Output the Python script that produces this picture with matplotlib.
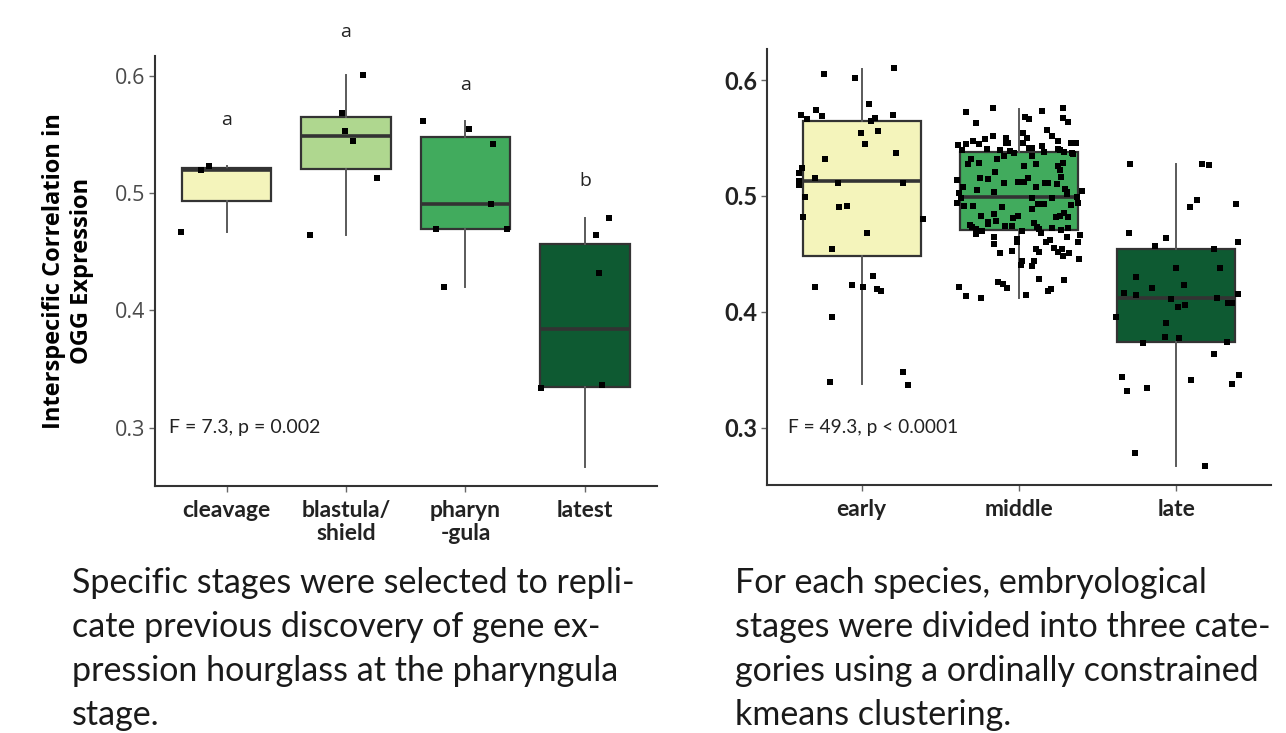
import numpy as np
import matplotlib.pyplot as plt

# per-stage correlation values (selected stages) and horizontal jitter of each point
stages = ['cleavage', 'blastula/\nshield', 'pharyn\n-gula', 'latest']
cleavage = [0.467, 0.5197, 0.5231]
cleavage_jit = [-0.383, -0.218, -0.148]
blastula = [0.6003, 0.5685, 0.5532, 0.5441, 0.5126, 0.4646]
blastula_jit = [0.14, -0.034, -0.006, 0.061, 0.262, -0.302]
pharyngula = [0.5617, 0.5543, 0.5416, 0.4907, 0.4692, 0.4692, 0.4203]
pharyngula_jit = [-0.359, 0.032, 0.228, 0.216, -0.247, 0.348, -0.178]
latest = [0.4785, 0.4646, 0.4322, 0.3342, 0.3368, 0.267]
latest_jit = [0.199, 0.09, 0.12, -0.369, 0.142, np.nan]
letters = ['a', 'a', 'a', 'b']
letter_y = [0.562, 0.637, 0.592, 0.51]

# clustered stages: early / middle / late
groups = ['early', 'middle', 'late']
early = [0.6054, 0.6015, 0.6101, 0.5796, 0.5744, 0.5695, 0.5663, 0.5687, 0.5695, 0.5644,
         0.5670, 0.5540, 0.5563, 0.5450, 0.5368, 0.5321, 0.5238, 0.5200, 0.5157, 0.5131,
         0.5091, 0.5114, 0.5114, 0.4991, 0.4902, 0.4910, 0.4815, 0.4803, 0.4677, 0.4539,
         0.4306, 0.4217, 0.4234, 0.4217, 0.4194, 0.4180, 0.3958, 0.3483, 0.3392, 0.3371]
early_jit = [-0.242, -0.045, 0.204, 0.046, -0.293, -0.386, -0.346, -0.253, 0.200, 0.060,
             0.086, -0.007, 0.101, 0.020, 0.215, -0.236, -0.380, -0.399, -0.297, -0.399,
             -0.399, -0.149, 0.262, -0.363, -0.145, -0.092, -0.371, 0.389, 0.033, -0.191,
             0.073, -0.297, -0.064, 0.006, 0.098, 0.122, -0.191, 0.262, -0.202, 0.293]
middle = [0.5758, 0.5721, 0.5683, 0.5666, 0.5730, 0.5758, 0.5669, 0.5638, 0.5629, 0.5568,
          0.5545, 0.5517, 0.5517, 0.5493, 0.5497, 0.5476, 0.5450, 0.5450, 0.5439, 0.5454,
          0.5454, 0.5497, 0.5454, 0.5474, 0.5454, 0.5459, 0.5431, 0.5396, 0.5402, 0.5396,
          0.5390, 0.5373, 0.5411, 0.5411, 0.5381, 0.5402, 0.5396, 0.5376, 0.5373, 0.5359,
          0.5316, 0.5275, 0.5281, 0.5321, 0.5344, 0.5344, 0.5286, 0.5258, 0.5223, 0.5258,
          0.5273, 0.5209, 0.5157, 0.5146, 0.5135, 0.5160, 0.5111, 0.5123, 0.5117, 0.5157,
          0.5114, 0.5109, 0.5105, 0.5074, 0.5079, 0.5048, 0.5028, 0.5036, 0.5057, 0.5036,
          0.5045, 0.5014, 0.4984, 0.4982, 0.4982, 0.4993, 0.4936, 0.4915, 0.4915, 0.4902,
          0.4887, 0.4930, 0.4930, 0.4924, 0.4941, 0.4844, 0.4827, 0.4807, 0.4824, 0.4821,
          0.4827, 0.4850, 0.4821, 0.4775, 0.4758, 0.4781, 0.4752, 0.4734, 0.4717, 0.4697,
          0.4669, 0.4738, 0.4738, 0.4764, 0.4734, 0.4714, 0.4677, 0.4726, 0.4703, 0.4723,
          0.4700, 0.4643, 0.4585, 0.4631, 0.4602, 0.4605, 0.4622, 0.4648, 0.4663, 0.4605,
          0.4553, 0.4519, 0.4539, 0.4510, 0.4481, 0.4539, 0.4513, 0.4527, 0.4510, 0.4458,
          0.4441, 0.4401, 0.4438, 0.4395, 0.4286, 0.4274, 0.4255, 0.4242, 0.4208, 0.4214,
          0.4177, 0.4194, 0.4134, 0.4122, 0.4142]
middle_jit = [-0.163, -0.338, 0.038, 0.065, 0.148, 0.277, 0.281, 0.313, -0.273, 0.176,
              0.027, 0.211, -0.167, -0.216, -0.083, -0.290, -0.256, -0.335, -0.389, -0.081,
              -0.068, 0.049, 0.023, 0.246, 0.328, 0.362, 0.148, -0.364, -0.201, -0.119,
              -0.055, -0.032, 0.063, 0.084, 0.159, 0.246, 0.260, 0.288, 0.338, 0.345,
              -0.307, -0.326, -0.252, -0.142, -0.095, 0.084, 0.281, 0.250, 0.258, 0.032,
              0.110, -0.154, -0.250, -0.197, -0.394, 0.269, -0.097, -0.004, 0.030, 0.055,
              0.165, 0.186, 0.239, 0.108, -0.354, -0.269, -0.379, -0.159, 0.292, 0.307,
              0.398, 0.303, -0.368, 0.081, 0.208, 0.366, -0.396, -0.347, -0.290, -0.110,
              0.084, 0.121, 0.157, 0.328, 0.377, -0.157, -0.243, -0.036, -0.004, 0.235,
              0.260, 0.286, 0.309, -0.195, -0.195, -0.148, -0.311, -0.297, -0.275, -0.235,
              -0.275, -0.087, -0.043, 0.095, 0.116, 0.129, 0.138, 0.211, 0.269, 0.313,
              0.021, -0.161, -0.161, -0.013, -0.015, 0.171, 0.199, 0.303, 0.385, 0.373,
              0.220, 0.250, 0.271, 0.316, 0.281, 0.108, 0.129, -0.046, -0.119, 0.383,
              0.017, 0.015, 0.093, 0.084, 0.127, 0.288, -0.131, -0.100, -0.076, -0.383,
              0.184, 0.203, -0.335, -0.243, 0.044]
late = [0.5278, 0.5275, 0.5264, 0.4965, 0.4907, 0.4928, 0.4677, 0.4639, 0.4570, 0.4600,
        0.4539, 0.4380, 0.4378, 0.4303, 0.4234, 0.4203, 0.4160, 0.4145, 0.4108, 0.4122,
        0.4151, 0.4079, 0.4079, 0.4044, 0.4056, 0.3958, 0.3903, 0.3785, 0.3771, 0.3733,
        0.3742, 0.3638, 0.3440, 0.3452, 0.3414, 0.3374, 0.3319, 0.3345, 0.2784, 0.2672]
late_jit = [-0.292, 0.163, 0.208, 0.129, 0.089, 0.383, -0.300, -0.065, -0.138, 0.392,
            0.239, -0.002, 0.279, -0.254, 0.049, -0.152, -0.335, -0.258, -0.032, 0.260,
            0.394, 0.332, 0.354, 0.013, 0.057, -0.381, -0.063, -0.070, 0.019, -0.210,
            0.326, 0.241, -0.345, 0.398, 0.093, 0.356, -0.316, -0.186, -0.265, 0.182]

# box summaries for the clustered groups: whisker low, q1, median, q3, whisker high
early_box = [0.3374, 0.4481, 0.5126, 0.5649, 0.6095]
middle_box = [0.4122, 0.4703, 0.4993, 0.5376, 0.5753]
late_box = [0.2670, 0.3739, 0.4116, 0.4545, 0.5275]

colors_left = ['#f4f4bb', '#afd78f', '#41ab5d', '#0e5a32']
colors_right = ['#f4f4bb', '#41ab5d', '#0e5a32']

box_edge = '#333333'
whisk_col = '#5a5a5a'
sans = ['Lato', 'DejaVu Sans']
opensans = ['Open Sans', 'DejaVu Sans']

fig = plt.figure(figsize=(12.86, 7.33), dpi=100)
ax1 = fig.add_axes([0.1205, 0.337, 0.390, 0.5866])
ax2 = fig.add_axes([0.5967, 0.3379, 0.3913, 0.5948])

# left panel
left_vals = [cleavage, blastula, pharyngula, latest]
left_jit = [cleavage_jit, blastula_jit, pharyngula_jit, latest_jit]
bp = ax1.boxplot(left_vals, positions=range(1, 5), widths=0.75, patch_artist=True,
                 showfliers=False, showcaps=False,
                 medianprops=dict(color='#333333', lw=2.6),
                 whiskerprops=dict(color=whisk_col, lw=1.4),
                 boxprops=dict(edgecolor=box_edge, lw=1.6))
for patch, c in zip(bp['boxes'], colors_left):
    patch.set_facecolor(c)
for i, (v, j) in enumerate(zip(left_vals, left_jit)):
    ax1.scatter(np.array(j) + i + 1, v, marker='s', s=20, color='black', zorder=5, lw=0)
for i, (t, y) in enumerate(zip(letters, letter_y)):
    ax1.text(i + 1, y, t, ha='center', va='center', fontsize=14, family=opensans,
             color='#222222', clip_on=False)
ax1.text(0.52, 0.30, 'F = 7.3, p = 0.002', fontsize=14, family=sans, va='center',
         color='#222222')
ax1.set_xlim(0.4, 4.6)
ax1.set_ylim(0.2505, 0.6168)
ax1.set_yticks([0.3, 0.4, 0.5, 0.6])
ax1.set_yticklabels(['0.3', '0.4', '0.5', '0.6'], family=opensans, fontsize=15.5, color='#4a4a4a')
ax1.set_xticks(range(1, 5))
ax1.set_xticklabels(stages, family=sans, fontsize=16.5, fontweight='bold', color='#222222')
for lab in ax1.get_xticklabels():
    lab.set_linespacing(1.15)
ax1.set_ylabel('Interspecific Correlation in\nOGG Expression', family=opensans,
               fontsize=17, fontweight='bold', linespacing=1.25, labelpad=15)

# right panel
right_vals = [early, middle, late]
right_jit = [early_jit, middle_jit, late_jit]
stats = []
for name, b in zip(groups, [early_box, middle_box, late_box]):
    stats.append(dict(label=name, whislo=b[0], q1=b[1], med=b[2], q3=b[3], whishi=b[4]))
bp2 = ax2.bxp(stats, positions=range(1, 4), widths=0.75, patch_artist=True,
              showfliers=False, showcaps=False,
              medianprops=dict(color='#333333', lw=2.6),
              whiskerprops=dict(color=whisk_col, lw=1.4),
              boxprops=dict(edgecolor=box_edge, lw=1.6))
for patch, c in zip(bp2['boxes'], colors_right):
    patch.set_facecolor(c)
for i, (v, j) in enumerate(zip(right_vals, right_jit)):
    ax2.scatter(np.array(j) + i + 1, v, marker='s', s=22, color='black', zorder=5, lw=0)
ax2.text(0.53, 0.3, 'F = 49.3, p < 0.0001', fontsize=13.8, family=sans, va='center',
         color='#222222')
ax2.set_xlim(0.4, 3.6)
ax2.set_ylim(0.2503, 0.6265)
ax2.set_yticks([0.3, 0.4, 0.5, 0.6])
ax2.set_yticklabels(['0.3', '0.4', '0.5', '0.6'], family=sans, fontsize=17,
                    fontweight='bold', color='#222222')
ax2.set_xticks(range(1, 4))
ax2.set_xticklabels(groups, family=sans, fontsize=16.5, fontweight='bold', color='#222222')

for ax in (ax1, ax2):
    for s in ('top', 'right'):
        ax.spines[s].set_visible(False)
    for s in ('left', 'bottom'):
        ax.spines[s].set_color('#333333')
        ax.spines[s].set_linewidth(1.5)
    ax.tick_params(length=4, width=1, color='#666666', pad=3)
    ax.tick_params(axis='x', pad=6)

# captions under each panel
fig.text(72 / 1286, 1 - 567 / 733,
         'Specific stages were selected to repli-\ncate previous discovery of gene ex-\n'
         'pression hourglass at the pharyngula\nstage.',
         family=sans, fontsize=24.5, va='top', ha='left', linespacing=1.46, color='#1a1a1a')
fig.text(735 / 1286, 1 - 567 / 733,
         'For each species, embryological\nstages were divided into three cate-\n'
         'gories using a ordinally constrained\nkmeans clustering.',
         family=sans, fontsize=24.5, va='top', ha='left', linespacing=1.46, color='#1a1a1a')

fig.savefig('out.png', dpi=100)
